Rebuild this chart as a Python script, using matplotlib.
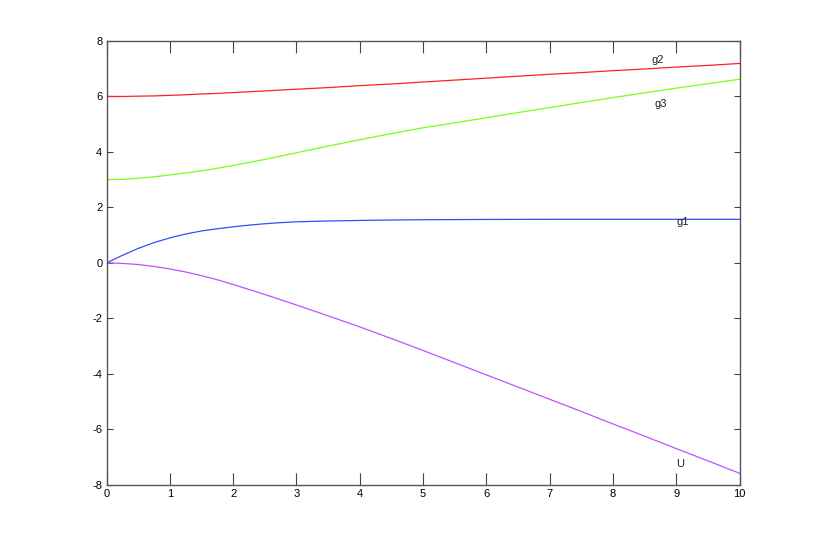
import matplotlib.pyplot as plt

# values
x = [0, 0.25, 0.5, 0.75, 1, 1.25, 1.5, 1.75, 2, 2.25, 2.5, 2.75, 3,
     3.5, 4, 4.5, 5, 5.5, 6, 6.5, 7, 7.5, 8, 8.5, 9, 9.5, 10]
g2 = [6.00, 6.00, 6.01, 6.02, 6.04, 6.06, 6.09, 6.11, 6.14, 6.17, 6.20, 6.23, 6.26,
      6.32, 6.39, 6.45, 6.52, 6.59, 6.66, 6.73, 6.80, 6.86, 6.93, 6.99, 7.06, 7.12, 7.19]
g3 = [3.00, 3.01, 3.05, 3.10, 3.17, 3.24, 3.32, 3.41, 3.51, 3.62, 3.73, 3.85, 3.97,
      4.21, 4.44, 4.66, 4.87, 5.05, 5.23, 5.42, 5.60, 5.78, 5.96, 6.13, 6.30, 6.46, 6.62]
g1 = [0.00, 0.27, 0.52, 0.73, 0.90, 1.04, 1.15, 1.23, 1.30, 1.36, 1.41, 1.45, 1.48,
      1.51, 1.53, 1.545, 1.555, 1.56, 1.565, 1.567, 1.57, 1.57, 1.57, 1.57, 1.57, 1.57, 1.57]
U = [0.00, -0.02, -0.06, -0.13, -0.22, -0.33, -0.46, -0.61, -0.78, -0.96, -1.14, -1.33, -1.52,
     -1.91, -2.31, -2.73, -3.16, -3.60, -4.04, -4.48, -4.92, -5.36, -5.81, -6.25, -6.70, -7.14, -7.59]

labels = ['g2', 'g3', 'g1', 'U']
label_pos = [(8.6, 7.3), (8.65, 5.72), (9.0, 1.48), (9.0, -7.27)]

plt.rcParams['font.family'] = ['Liberation Sans', 'DejaVu Sans']
plt.rcParams['axes.unicode_minus'] = False

fig = plt.figure(figsize=(8.17, 5.45), dpi=100)
ax = fig.add_axes([0.1304, 0.1106, 0.7750, 0.8142])

ax.plot(x, g2, color='#ff2020', lw=0.9)
ax.plot(x, g3, color='#77ff11', lw=0.9)
ax.plot(x, g1, color='#3050ff', lw=0.9)
ax.plot(x, U, color='#c050ff', lw=0.9)

for name, (tx, ty) in zip(labels, label_pos):
    ax.text(tx, ty, name, fontsize=8, ha='left', va='center', color='#222222')

ax.set_xlim(0, 10)
ax.set_ylim(-8, 8)
ax.set_xticks(range(0, 11))
ax.set_yticks(range(-8, 9, 2))

ax.tick_params(axis='x', direction='in', top=True, length=8.5, width=0.8,
               labelsize=8, pad=3, color='#444444')
ax.tick_params(axis='y', direction='in', right=True, length=4.3, width=0.8,
               labelsize=8, pad=3, color='#444444')
for s in ax.spines.values():
    s.set_color('#555555')
    s.set_linewidth(1.0)

fig.savefig('out.png', dpi=100, facecolor='white')
